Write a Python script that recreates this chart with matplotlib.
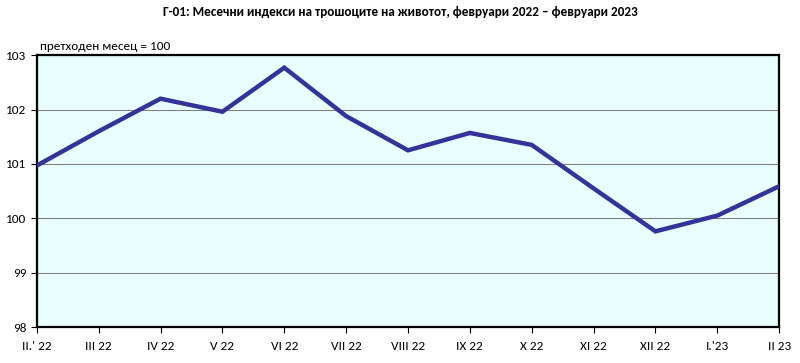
import matplotlib
matplotlib.use("Agg")
import matplotlib.pyplot as plt

# Monthly CPI indices, previous month = 100
months = ["II.' 22", "III 22", "IV 22", "V 22", "VI 22", "VII 22", "VIII 22",
          "IX 22", "X 22", "XI 22", "XII 22", "I.'23", "II 23"]
index_values = [100.97, 101.60, 102.20, 101.96, 102.77, 101.88, 101.25,
                101.57, 101.35, 100.55, 99.76, 100.05, 100.59]
y_ticks = [98, 99, 100, 101, 102, 103]

title = "Г-01: Месечни индекси на трошоците на животот, февруари 2022 – февруари 2023"
note = "претходен месец = 100"

plt.rcParams["font.family"] = ["Carlito", "DejaVu Sans"]

fig = plt.figure(figsize=(8, 3.63), dpi=100)
ax = fig.add_axes([0.046, 0.099, 0.928, 0.749])
ax.set_facecolor("#E9FFFF")

x = list(range(len(months)))
ax.plot(x, index_values, color="#333399", linewidth=3.2, solid_joinstyle="miter", zorder=3)

ax.set_xlim(0, len(months) - 1)
ax.set_ylim(98, 103)
ax.set_yticks(y_ticks)
ax.set_xticks(x)
ax.set_xticklabels(months)
ax.yaxis.grid(True, color="#808080", linewidth=0.8)
ax.set_axisbelow(True)

for s in ax.spines.values():
    s.set_color("black")
    s.set_linewidth(1.6)

ax.tick_params(axis="both", direction="out", length=4, width=0.8, labelsize=9.5)
ax.tick_params(axis="x", pad=6)

fig.text(0.5, 0.967, title, ha="center", va="center", fontsize=9.5, fontweight="bold")
fig.text(0.05, 0.872, note, ha="left", va="center", fontsize=9.5)

fig.savefig("out.png", dpi=100)
